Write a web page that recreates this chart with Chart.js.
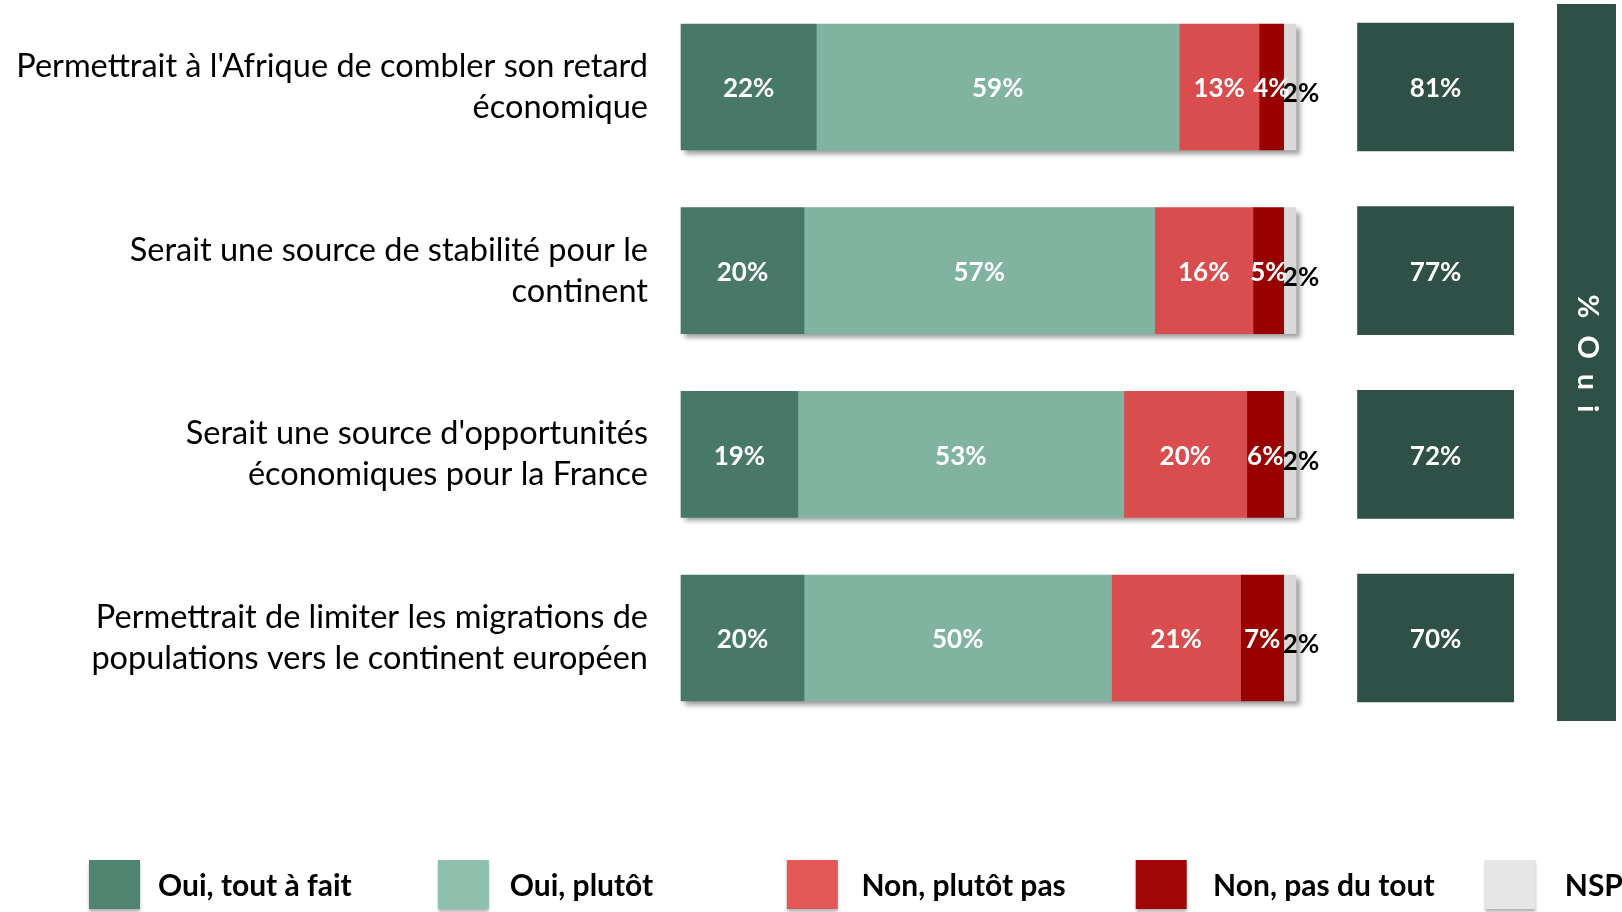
<!DOCTYPE html>
<html>
<head>
<meta charset="utf-8">
<script src="https://cdn.jsdelivr.net/npm/chart.js@4"></script>
<style>
  html, body { margin: 0; padding: 0; background: #fff; }
  #wrap { width: 1622px; height: 912px; position: relative; }
</style>
</head>
<body>
<div id="wrap"><canvas id="barChart"></canvas></div>
<script>
// categories (two lines each)
const categories = [
  ["Permettrait à l'Afrique de combler son retard", "économique"],
  ["Serait une source de stabilité pour le", "continent"],
  ["Serait une source d'opportunités", "économiques pour la France"],
  ["Permettrait de limiter les migrations de", "populations vers le continent européen"]
];
const seriesNames = ["Oui, tout à fait", "Oui, plutôt", "Non, plutôt pas", "Non, pas du tout", "NSP"];
const toutAFait = [22, 20, 19, 20];
const plutot = [59, 57, 53, 50];
const plutotPas = [13, 16, 20, 21];
const pasDuTout = [4, 5, 6, 7];
const nsp = [2, 2, 2, 2];
const ouiTotal = [81, 77, 72, 70];

const barColors = ['#487868', '#80b3a0', '#d94d4f', '#990000', '#d9d9d9'];
const legendColors = ['#4e8470', '#8fc0ad', '#e45757', '#a00606', '#e6e6e6'];
const ouiColor = '#2f5046';
const FONT = 'Lato, "Open Sans", sans-serif';

// the "% Oui" column sits to the right of the 100% bars, on the same x scale
const ouiCol = [110, 135.4];

const series = [toutAFait, plutot, plutotPas, pasDuTout, nsp];
const datasets = series.map((vals, i) => ({
  label: seriesNames[i],
  data: vals,
  backgroundColor: barColors[i],
  stack: 'main',
  barThickness: 126,
  clip: false
}));
datasets.push({
  label: '% Oui',
  data: ouiTotal.map(() => ouiCol),
  totals: ouiTotal,
  backgroundColor: ouiColor,
  stack: 'oui',
  barThickness: 128,
  clip: false
});

// one drop shadow under each whole stacked bar
const shadowPlugin = {
  id: 'shadow',
  beforeDatasetsDraw(chart) {
    const ctx = chart.ctx;
    const xs = chart.scales.x;
    const first = chart.getDatasetMeta(0).data;
    ctx.save();
    ctx.shadowColor = 'rgba(0,0,0,0.4)';
    ctx.shadowBlur = 5;
    ctx.shadowOffsetX = 4;
    ctx.shadowOffsetY = 4;
    ctx.fillStyle = barColors[4];
    first.forEach((bar, i) => {
      let total = 0;
      series.forEach(s => total += s[i]);
      const x0 = xs.getPixelForValue(0);
      const x1 = xs.getPixelForValue(total);
      ctx.fillRect(x0, bar.y - bar.height / 2, x1 - x0, bar.height);
    });
    ctx.restore();
  }
};

const labelPlugin = {
  id: 'barLabels',
  afterDatasetsDraw(chart) {
    const ctx = chart.ctx;
    ctx.save();
    ctx.textAlign = 'center';
    ctx.textBaseline = 'middle';
    chart.data.datasets.forEach((ds, di) => {
      const meta = chart.getDatasetMeta(di);
      meta.data.forEach((bar, i) => {
        let txt, x = (bar.x + bar.base) / 2, y = bar.y + 2;
        if (di === 5) {
          txt = ds.totals[i] + '%';
          ctx.fillStyle = '#fff';
        } else if (di === 4) {
          txt = ds.data[i] + '%';
          ctx.fillStyle = '#000';
          x = bar.x + 5;
          y = bar.y + 7;
        } else {
          txt = ds.data[i] + '%';
          ctx.fillStyle = '#fff';
        }
        ctx.font = 'bold 26px ' + FONT;
        ctx.fillText(txt, x, y);
      });
    });
    ctx.restore();
  }
};

const sidePlugin = {
  id: 'sideBand',
  afterDraw(chart) {
    const ctx = chart.ctx;
    ctx.save();
    // vertical band
    ctx.fillStyle = ouiColor;
    ctx.fillRect(1557, 4, 59, 717);
    ctx.translate(1587, 354);
    ctx.rotate(Math.PI / 2);
    ctx.fillStyle = '#fff';
    ctx.font = 'bold 29px ' + FONT;
    ctx.letterSpacing = '15px';
    ctx.wordSpacing = '-20px';
    ctx.textAlign = 'center';
    ctx.textBaseline = 'middle';
    ctx.fillText('% Oui', 7, 0);
    ctx.restore();

    // legend
    ctx.save();
    seriesNames.forEach((name, i) => {
      const x = 89 + i * 348.9;
      ctx.save();
      ctx.shadowColor = 'rgba(0,0,0,0.3)';
      ctx.shadowBlur = 3;
      ctx.shadowOffsetY = 3;
      ctx.fillStyle = legendColors[i];
      ctx.fillRect(x, 860, 51, 49);
      ctx.restore();
      ctx.fillStyle = '#000';
      ctx.font = 'bold 30px ' + FONT;
      ctx.textAlign = 'left';
      ctx.textBaseline = 'middle';
      ctx.fillText(name, 158 + i * 351.7, 886);
    });
    ctx.restore();
  }
};

new Chart(document.getElementById('barChart'), {
  type: 'bar',
  data: { labels: categories, datasets: datasets },
  options: {
    indexAxis: 'y',
    responsive: true,
    maintainAspectRatio: false,
    animation: false,
    layout: { padding: { top: 87, bottom: 274, left: 0, right: 326 } },
    datasets: { bar: { grouped: false } },
    plugins: { legend: { display: false }, tooltip: { enabled: false } },
    scales: {
      x: { stacked: true, min: 0, max: 100, display: false },
      y: {
        stacked: true,
        offset: false,
        grid: { display: false, drawTicks: false },
        border: { display: false },
        ticks: {
          padding: 33,
          color: '#000',
          font: { family: FONT, size: 32.5, lineHeight: 1.27 }
        },
        afterFit(scale) { scale.width = 681; }
      }
    }
  },
  plugins: [shadowPlugin, labelPlugin, sidePlugin]
});
</script>
</body>
</html>
